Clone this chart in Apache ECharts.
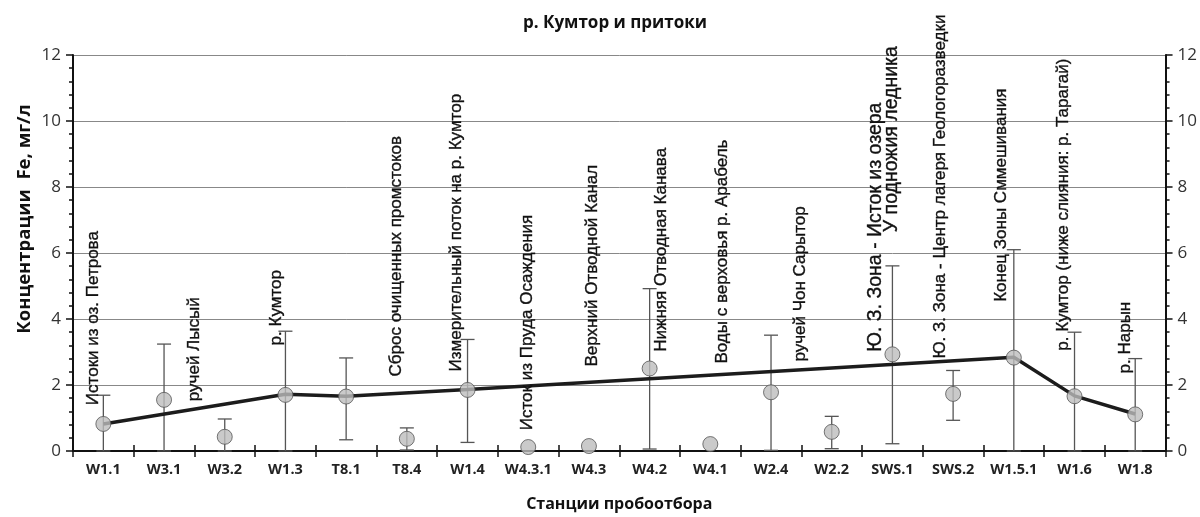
<!DOCTYPE html>
<html>
<head>
<meta charset="utf-8">
<script src="https://cdn.jsdelivr.net/npm/echarts@6/dist/echarts.min.js"></script>
<style>
html,body{margin:0;padding:0;background:#fff;}
#chart{width:1200px;height:517px;}
</style>
</head>
<body>
<div id="chart"></div>
<script>
// ---- data ----
const stations = ['W1.1','W3.1','W3.2','W1.3','T8.1','T8.4','W1.4','W4.3.1','W4.3','W4.2','W4.1','W2.4','W2.2','SWS.1','SWS.2','W1.5.1','W1.6','W1.8'];
const meanFe   = [0.82, 1.55, 0.43, 1.70, 1.65, 0.37, 1.85, 0.12, 0.15, 2.50, 0.21, 1.78, 0.58, 2.93, 1.73, 2.83, 1.66, 1.11];
const lowFe    = [0.00, 0.00, 0.00, 0.00, 0.34, 0.03, 0.26, null, null, 0.06, null, 0.02, 0.07, 0.22, 0.93, 0.00, 0.00, 0.00];
const highFe   = [1.69, 3.24, 0.97, 3.63, 2.82, 0.70, 3.38, null, null, 4.92, null, 3.51, 1.05, 5.61, 2.44, 6.10, 3.60, 2.80];
const mainRiver = [0.82, null, null, 1.72, 1.66, null, 1.86, null, null, null, null, null, null, null, null, 2.84, 1.67, 1.12];
const noteText = [
  'Истоки из оз. Петрова',
  'ручей Лысый',
  'р. Кумтор',
  'Сброс очищенных промстоков',
  'Измерительный поток на р. Кумтор',
  'Исток из Пруда Осаждения',
  'Верхний Отводной Канал',
  'Нижняя Отводная Канава',
  'Воды с верховья р. Арабель',
  'ручей Чон Сарытор',
  'Ю. З. Зона - Исток из озера',
  'У подножия ледника',
  'Ю. З. Зона - Центр лагеря Геологоразведки',
  'Конец Зоны Сммешивания',
  'р. Кумтор (ниже слияния: р. Тарагай)',
  'р. Нарын'
];
const yTicks = [0, 2, 4, 6, 8, 10, 12];

// ---- layout of annotations (category position, value at text start, font size) ----
const noteAnchor = [
  [-0.17, 1.39, 17], [1.50, 1.51, 17], [2.85, 3.20, 17], [4.83, 2.26, 17],
  [5.81, 2.41, 17], [6.98, 0.63, 17], [8.05, 2.56, 17], [9.20, 3.01, 17],
  [10.19, 2.65, 17], [11.48, 2.71, 17], [12.72, 3.01, 19.5], [12.98, 6.63, 19.5],
  [13.79, 2.80, 17], [14.79, 4.52, 17], [15.81, 3.04, 17], [16.84, 2.35, 17]
];

const errData = stations.map((s, i) => [i, lowFe[i], highFe[i]]).filter(d => d[1] !== null);
const noteData = noteText.map((t, i) => [noteAnchor[i][0], noteAnchor[i][1], noteAnchor[i][2], t]);

const chart = echarts.init(document.getElementById('chart'), null, {renderer: 'canvas'});
const FONT = '"Liberation Sans", Arial, sans-serif';
const UI = '"Open Sans", sans-serif';

const yAxisCommon = {
  type: 'value', min: yTicks[0], max: yTicks[yTicks.length - 1], interval: 2,
  axisLine: {show: true, lineStyle: {color: '#111', width: 2}},
  axisTick: {show: true, length: 7, lineStyle: {color: '#111', width: 1.5}},
  minorTick: {show: true, splitNumber: 5, length: 4, lineStyle: {color: '#111', width: 1.5}},
  axisLabel: {color: '#333', fontSize: 17, fontFamily: UI, margin: 12}
};

chart.setOption({
  animation: false,
  backgroundColor: '#fff',
  title: {
    text: 'р. Кумтор и притоки', left: 610, top: 10, textAlign: 'center',
    textStyle: {fontSize: 17, fontWeight: 'bold', color: '#111', fontFamily: UI}
  },
  grid: {left: 73, right: 32, top: 55, bottom: 64},
  graphic: [{
    type: 'text', x: 25, y: 219, rotation: Math.PI / 2,
    style: {text: 'Концентрации  Fe, мг/л', x: 0, y: 0, align: 'center', verticalAlign: 'middle',
      fontSize: 18.5, fontWeight: 'bold', fill: '#111', fontFamily: UI}
  }],
  xAxis: [{
    type: 'category', data: stations, boundaryGap: true,
    axisLine: {show: true, lineStyle: {color: '#111', width: 2}},
    axisTick: {show: true, length: 6, lineStyle: {color: '#111', width: 1.5}},
    axisLabel: {color: '#222', fontSize: 14.5, fontWeight: 'bold', fontFamily: UI, margin: 11,
      interval: 0, hideOverlap: false},
    name: 'Станции пробоотбора', nameLocation: 'middle', nameGap: 45,
    nameTextStyle: {fontSize: 16, fontWeight: 'bold', color: '#111', fontFamily: UI}
  }, {
    type: 'category', data: stations, boundaryGap: true, position: 'bottom',
    axisLine: {show: false},
    axisTick: {show: true, inside: true, length: 6, lineStyle: {color: '#111', width: 1.5}},
    axisLabel: {show: false}
  }],
  yAxis: [
    Object.assign({}, yAxisCommon, {
      position: 'left',
      splitLine: {show: true, lineStyle: {color: '#888', width: 1}}
    }),
    Object.assign({}, yAxisCommon, {
      position: 'right', splitLine: {show: false}
    })
  ],
  series: [
    {
      type: 'custom', name: 'err', z: 2, data: errData,
      renderItem: function (params, api) {
        const x = api.coord([api.value(0), 0])[0];
        const yl = api.coord([0, api.value(1)])[1];
        const yh = api.coord([0, api.value(2)])[1];
        const w = 7;
        const st = {stroke: '#555', lineWidth: 1.3};
        return {type: 'group', children: [
          {type: 'line', shape: {x1: x, y1: yl, x2: x, y2: yh}, style: st},
          {type: 'line', shape: {x1: x - w, y1: yh, x2: x + w, y2: yh}, style: st},
          {type: 'line', shape: {x1: x - w, y1: yl, x2: x + w, y2: yl}, style: st}
        ]};
      }
    },
    {
      type: 'line', data: mainRiver, connectNulls: true, z: 3,
      showSymbol: false, symbol: 'none',
      lineStyle: {color: '#1c1c1c', width: 3.5}
    },
    {
      type: 'scatter', data: meanFe, z: 4, symbol: 'circle', symbolSize: 15,
      itemStyle: {color: '#bdbdbd', borderColor: '#555', borderWidth: 1}
    },
    {
      type: 'custom', name: 'notes', z: 5, data: noteData,
      renderItem: function (params, api) {
        const f = api.value(0);
        const i0 = Math.max(Math.floor(f), 0);
        const band = api.size([1, 0])[0];
        const x = api.coord([i0, 0])[0] + (f - i0) * band;
        const y = api.coord([0, api.value(1)])[1];
        return {
          type: 'text', x: x, y: y, rotation: Math.PI / 2,
          style: {
            text: noteData[params.dataIndex][3], x: 0, y: 0,
            align: 'left', verticalAlign: 'middle',
            fontSize: noteData[params.dataIndex][2], fontFamily: FONT, fill: '#111',
            stroke: '#111', lineWidth: 0.35
          }
        };
      }
    }
  ]
});
</script>
</body>
</html>
